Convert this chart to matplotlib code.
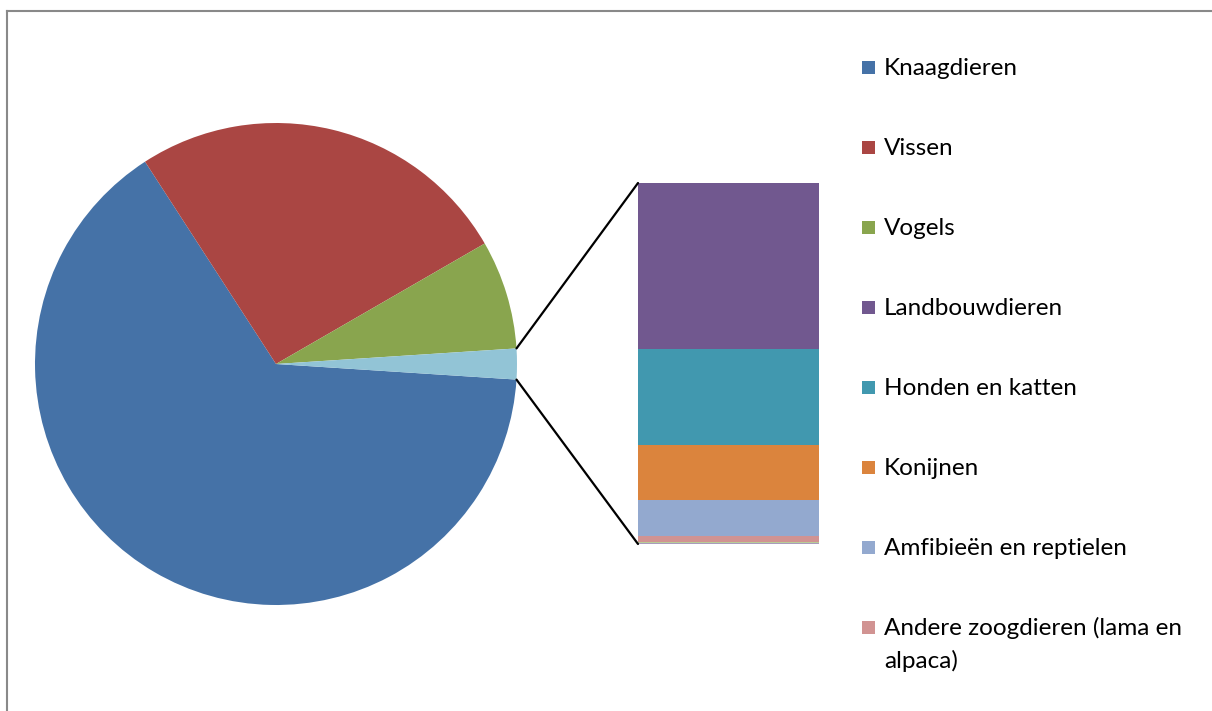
import textwrap
import numpy as np
import matplotlib
matplotlib.use("Agg")
import matplotlib.pyplot as plt
from matplotlib.patches import ConnectionPatch, Rectangle
from matplotlib.lines import Line2D

# ---- data (percent of all animals) ----
pie_labels = ["Knaagdieren", "Vissen", "Vogels"]
pie_values = [64.8, 25.8, 7.3]
pie_colors = ["#4572A7", "#AA4643", "#89A54E"]
other_color = "#92C4D6"

bar_labels = ["Landbouwdieren", "Honden en katten", "Konijnen",
              "Amfibieën en reptielen", "Andere zoogdieren (lama en alpaca)",
              "", ""]
bar_values = [0.946, 0.547, 0.313, 0.205, 0.034, 0.0085, 0.0057]
bar_colors = ["#71588F", "#4198AF", "#DB843D", "#93A9CF", "#D19392",
              "#B9CD96", "#A99BBD"]

W, H = 1212, 711
fig = plt.figure(figsize=(W / 100, H / 100), dpi=100)
fig.patch.set_facecolor("white")

def fr(x, y, w, h):
    """pixel box (top-left origin) -> figure fraction rect"""
    return [x / W, 1 - (y + h) / H, w / W, h / H]

# ---- pie ----
cx, cy, r = 276, 364, 241
ax_pie = fig.add_axes(fr(cx - r, cy - r, 2 * r, 2 * r))
other_total = sum(bar_values)
values = pie_values + [other_total]
total = sum(values)
other_deg = other_total / total * 360
start = -other_deg / 2  # 'other' slice centred at 3 o'clock
wedges, _ = ax_pie.pie(values, colors=pie_colors + [other_color],
                       startangle=start, counterclock=False, radius=1,
                       wedgeprops=dict(linewidth=0))
ax_pie.set_xlim(-1, 1)
ax_pie.set_ylim(-1, 1)
ax_pie.set_aspect("equal")
ax_pie.axis("off")

# ---- bar of pie ----
bx, by, bw, bh = 638, 183, 181, 361
ax_bar = fig.add_axes(fr(bx, by, bw, bh))
bottom = 0.0
for v, c in zip(bar_values[::-1], bar_colors[::-1]):
    ax_bar.bar(0, v, width=1.0, bottom=bottom, color=c, linewidth=0)
    bottom += v
ax_bar.set_xlim(-0.5, 0.5)
ax_bar.set_ylim(0, other_total)
ax_bar.axis("off")

# ---- connector lines ----
a1 = np.deg2rad(start + other_deg)
a2 = np.deg2rad(start)
for ang, yb in [(a1, 1.0), (a2, 0.0)]:
    con = ConnectionPatch(xyA=(np.cos(ang), np.sin(ang)), coordsA=ax_pie.transData,
                          xyB=(0.0, yb), coordsB=ax_bar.transAxes,
                          color="black", linewidth=1.6)
    fig.add_artist(con)

# ---- frame (chart area border, cropped on right/bottom) ----
px = fig.transFigure
fig.add_artist(Line2D([6.5 / W, 1.01], [1 - 10.5 / H, 1 - 10.5 / H],
                      transform=px, color="#898989", linewidth=1.5))
fig.add_artist(Line2D([6.5 / W, 6.5 / W], [1 - 10.5 / H, -0.01],
                      transform=px, color="#898989", linewidth=1.5))

# ---- legend ----
legend_labels = pie_labels + bar_labels[:5]
legend_colors = pie_colors + bar_colors[:5]
y0, dy, line_h = 67, 80, 33
for i, (lab, col) in enumerate(zip(legend_labels, legend_colors)):
    yc = y0 + i * dy
    fig.add_artist(Rectangle((862 / W, 1 - (yc + 7) / H), 13 / W, 13 / H,
                             transform=px, facecolor=col, edgecolor="none"))
    for j, line in enumerate(textwrap.fill(lab, 26).split("\n")):
        fig.text(884 / W, 1 - (yc + 8 + j * line_h) / H, line,
                 ha="left", va="baseline", fontsize=17.5, family="Lato",
                 color="black")

fig.savefig("out.png", dpi=100, facecolor="white")
